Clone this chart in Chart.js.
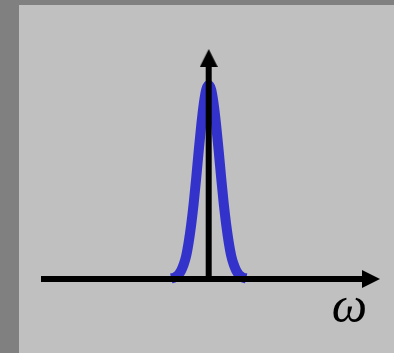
<!DOCTYPE html>
<html>
<head>
<meta charset="utf-8">
<script src="https://cdn.jsdelivr.net/npm/chart.js@4/dist/chart.umd.min.js"></script>
<style>
  html, body { margin: 0; padding: 0; background: #808080; width: 394px; height: 353px; overflow: hidden; }
  #wrap { position: absolute; left: 19px; top: 5px; width: 375px; height: 348px; background: #c0c0c0; }
  canvas { display: block; }
</style>
</head>
<body>
<div id="wrap"><canvas id="c" width="375" height="348"></canvas></div>
<script>
// Spectrum (frequency axis omega, arbitrary units)
const omega = [-3.75, -3.5, -3.25, -3.0, -2.75, -2.5, -2.25, -2.0, -1.75, -1.5, -1.25, -1.0, -0.75, -0.5, -0.25, 0,
               0.25, 0.5, 0.75, 1.0, 1.25, 1.5, 1.75, 2.0, 2.25, 2.5, 2.75, 3.0, 3.25, 3.5, 3.75];
const amplitude = [0.003, 0.006, 0.013, 0.024, 0.044, 0.075, 0.12, 0.19, 0.28, 0.39, 0.52, 0.66, 0.79, 0.90, 0.975, 1.0,
                   0.975, 0.90, 0.79, 0.66, 0.52, 0.39, 0.28, 0.19, 0.12, 0.075, 0.044, 0.024, 0.013, 0.006, 0.003];

// Axis arrows (data units)
const xAxisX = [-16.77, 15.4];
const xAxisY = [0, 0];
const yAxisX = [0, 0];
const yAxisY = [0, 1.094];
const xArrowHead = [16.23, 0];
const yArrowHead = [0, 1.139];
const axisLabel = 'ω';
const axisLabelPos = [14.08, -0.2216];

function arrowImage(len, wid) {
  const c = document.createElement('canvas');
  c.width = wid; c.height = len;
  const g = c.getContext('2d');
  g.fillStyle = '#000';
  g.beginPath();
  g.moveTo(wid / 2, 0);
  g.lineTo(wid, len);
  g.lineTo(0, len);
  g.closePath();
  g.fill();
  return c;
}
const arrow = arrowImage(18, 18);

const labelPlugin = {
  id: 'omegaLabel',
  afterDatasetsDraw(chart) {
    const ctx = chart.ctx;
    const px = chart.scales.x.getPixelForValue(axisLabelPos[0]);
    const py = chart.scales.y.getPixelForValue(axisLabelPos[1]);
    ctx.save();
    ctx.fillStyle = '#000';
    ctx.font = 'italic 50px "Liberation Serif", "DejaVu Serif", serif';
    ctx.textAlign = 'center';
    ctx.textBaseline = 'alphabetic';
    ctx.fillText(axisLabel, px, py);
    ctx.restore();
  }
};

new Chart(document.getElementById('c'), {
  type: 'line',
  data: {
    datasets: [
      {
        label: 'x axis',
        data: xAxisX.map((v, i) => ({ x: v, y: xAxisY[i] })),
        borderColor: '#000', borderWidth: 6, pointRadius: 0, order: 1, borderCapStyle: 'butt'
      },
      {
        label: 'y axis',
        data: yAxisX.map((v, i) => ({ x: v, y: yAxisY[i] })),
        borderColor: '#000', borderWidth: 6, pointRadius: 0, order: 1, borderCapStyle: 'butt'
      },
      {
        label: 'x arrow',
        data: [{ x: xArrowHead[0], y: xArrowHead[1] }],
        showLine: false, pointStyle: arrow, pointRotation: 90, pointRadius: 9, pointBorderWidth: 0, order: 1
      },
      {
        label: 'y arrow',
        data: [{ x: yArrowHead[0], y: yArrowHead[1] }],
        showLine: false, pointStyle: arrow, pointRotation: 0, pointRadius: 9, pointBorderWidth: 0, order: 1
      },
      {
        label: 'spectrum',
        data: omega.map((v, i) => ({ x: v, y: amplitude[i] })),
        borderColor: '#3333cc', borderWidth: 10, pointRadius: 0,
        cubicInterpolationMode: 'monotone', borderJoinStyle: 'round', borderCapStyle: 'butt',
        order: 2
      }
    ]
  },
  options: {
    responsive: false,
    animation: false,
    devicePixelRatio: 1,
    layout: { padding: 0, autoPadding: false },
    plugins: { legend: { display: false }, tooltip: { enabled: false }, title: { display: false } },
    scales: {
      x: { type: 'linear', min: -18.97, max: 18.53, display: false },
      y: { type: 'linear', min: -0.38144, max: 1.41237, display: false }
    }
  },
  plugins: [labelPlugin]
});
</script>
</body>
</html>
